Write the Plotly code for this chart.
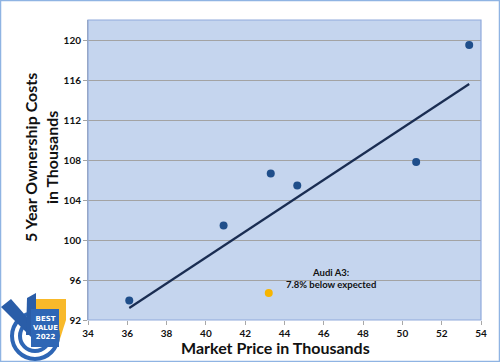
import plotly.graph_objects as go

# Data
market_price = [36.1, 40.9, 43.3, 44.65, 50.7, 53.4]
ownership_cost = [93.95, 101.45, 106.65, 105.45, 107.8, 119.5]
audi_price = [43.2]
audi_cost = [94.7]
trend_x = [36.1, 53.4]
trend_y = [93.2, 115.6]
x_ticks = [34, 36, 38, 40, 42, 44, 46, 48, 50, 52, 54]
y_ticks = [92, 96, 100, 104, 108, 112, 116, 120]

W, H = 500, 362
L, R, T, B = 88, 19, 20, 42
PW, PH = W - L - R, H - T - B

def px(x):
    return (x - L) / PW

def py(y):
    return (H - B - y) / PH

FONT = "Lato"

fig = go.Figure()
fig.add_trace(go.Scatter(x=trend_x, y=trend_y, mode="lines",
                         line=dict(color="#1a2d52", width=2.2), hoverinfo="skip"))
fig.add_trace(go.Scatter(x=market_price, y=ownership_cost, mode="markers",
                         marker=dict(color="#1f4e8a", size=8)))
fig.add_trace(go.Scatter(x=audi_price, y=audi_cost, mode="markers",
                         marker=dict(color="#f7b500", size=8)))

fig.add_annotation(x=46.35, y=96.15, text="<b>Audi A3:<br>7.8% below expected</b>",
                   showarrow=False, font=dict(family=FONT, size=9.5, color="#111"),
                   align="center", xanchor="center", yanchor="middle")

# axis titles
fig.add_annotation(xref="paper", yref="paper", x=px(275), y=py(347),
                   xanchor="center", yanchor="middle",
                   text="<b>Market Price in Thousands</b>", showarrow=False,
                   font=dict(family=FONT, size=16, color="#111"))
fig.add_annotation(xref="paper", yref="paper", x=px(41), y=py(158),
                   xanchor="center", yanchor="middle",
                   text="<b>5 Year Ownership Costs<br>in Thousands</b>", showarrow=False,
                   textangle=-90, font=dict(family=FONT, size=16, color="#111"))

shapes = []
# outer border
shapes.append(dict(type="rect", xref="paper", yref="paper",
                   x0=px(0.5), x1=px(W - 0.5), y0=py(H - 0.5), y1=py(0.5),
                   line=dict(color="#8fb4e3", width=1.5), layer="below"))
# plot area border
shapes.append(dict(type="rect", xref="paper", yref="paper", x0=0, x1=1, y0=0, y1=1,
                   line=dict(color="#8faadc", width=1.2), layer="above"))

# logo approximation
shapes.append(dict(type="path", xref="paper", yref="paper",
                   path=f"M {px(35)} {py(299)} L {px(66)} {py(299)} L {px(66)} {py(320)} L {px(59)} {py(342)} L {px(35)} {py(342)} Z",
                   fillcolor="#f8b92a", line=dict(width=0)))
for r, w in [(23, 4), (15, 4)]:
    shapes.append(dict(type="circle", xref="paper", yref="paper",
                       x0=px(35 - r), x1=px(35 + r), y0=py(336 + r), y1=py(336 - r),
                       line=dict(color="#2e66b5", width=w)))
shapes.append(dict(type="path", xref="paper", yref="paper",
                   path=f"M {px(1)} {py(307)} L {px(11)} {py(299)} L {px(33)} {py(324)} L {px(31)} {py(337)} Z",
                   fillcolor="#2a5da8", line=dict(width=0)))
shapes.append(dict(type="path", xref="paper", yref="paper",
                   path=f"M {px(26)} {py(335)} L {px(27)} {py(298)} L {px(36)} {py(293)} L {px(36)} {py(335)} Z",
                   fillcolor="#2a5da8", line=dict(width=0)))
shapes.append(dict(type="rect", xref="paper", yref="paper",
                   x0=px(31), x1=px(59), y0=py(347), y1=py(309),
                   fillcolor="#2e66b5", line=dict(width=0)))

fig.add_annotation(xref="paper", yref="paper", x=px(45), y=py(328),
                   xanchor="center", yanchor="middle",
                   text="<b>BEST<br>VALUE<br>2022</b>", showarrow=False,
                   font=dict(family="DejaVu Sans", size=7, color="white"),
                   align="center")

fig.update_layout(
    width=W, height=H,
    margin=dict(l=L, r=R, t=T, b=B, autoexpand=False),
    paper_bgcolor="white",
    plot_bgcolor="#c5d5ee",
    showlegend=False,
    shapes=shapes,
    font=dict(family=FONT, color="#111"),
)
fig.update_xaxes(range=[34, 54], tickvals=x_ticks, ticktext=[f"<b>{v}</b>" for v in x_ticks],
                 showgrid=False, zeroline=False, ticks="outside", ticklen=4,
                 tickcolor="#a8a8a8", tickfont=dict(family=FONT, size=10, color="#111"),
                 automargin=False, showline=False)
fig.update_yaxes(range=[92, 122], tickvals=y_ticks, ticktext=[f"<b>{v}</b>" for v in y_ticks],
                 showgrid=True, gridcolor="#a3a3a3", gridwidth=1, zeroline=False,
                 ticks="outside", ticklen=4, tickcolor="#a3a3a3",
                 tickfont=dict(family=FONT, size=10, color="#111"),
                 automargin=False, showline=True, linecolor="#a3a3a3", linewidth=1)

fig.write_html("out.html", config={"displayModeBar": False},
               post_script="document.body.style.margin='0';document.body.style.overflow='hidden';")
